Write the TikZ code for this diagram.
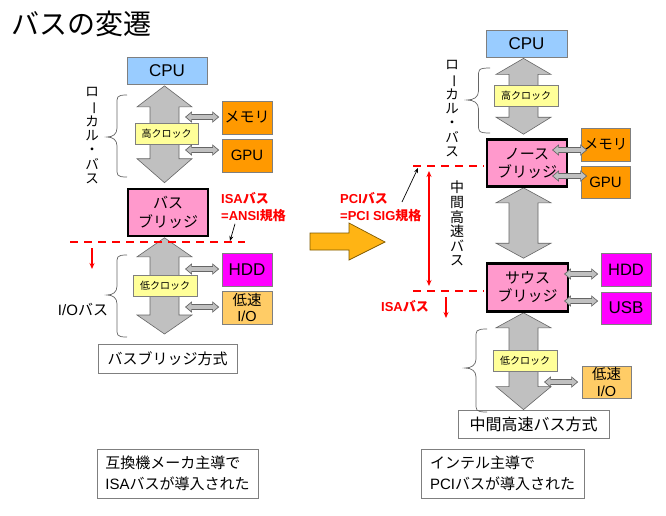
\documentclass[tikz,border=0pt]{standalone}
\usepackage{fontspec}
\setmainfont{Noto Sans CJK JP}
\newfontfamily\lat{Liberation Sans}
\usetikzlibrary{calc,arrows.meta}
\newcommand\la[1]{{\lat #1}}
\newcommand\fsz[2]{\fontsize{#1}{#2}\selectfont}
\definecolor{cpublue}{HTML}{99CCFF}
\definecolor{clkyellow}{HTML}{FFFF99}
\definecolor{devorange}{HTML}{FF9900}
\definecolor{devmagenta}{HTML}{FF00FF}
\definecolor{iolight}{HTML}{FFCC66}
\definecolor{bridgepink}{HTML}{FF99CC}
\definecolor{busgray}{HTML}{C0C0C0}
\definecolor{busedge}{HTML}{666666}
\definecolor{boxedge}{HTML}{7F7F7F}
\definecolor{bigorange}{HTML}{FFB414}
\definecolor{bigorangeedge}{HTML}{7F5A00}
\pgfdeclarelayer{background}
\pgfsetlayers{background,main}
\tikzset{
  unitbox/.style={draw=boxedge, line width=0.8pt, inner sep=0pt, align=center},
  cpubox/.style={unitbox, fill=cpublue, minimum width=81pt, minimum height=27pt, font=\fsz{17}{20}\lat},
  clkbox/.style={unitbox, fill=clkyellow, minimum width=64pt, minimum height=21pt, font=\fsz{10}{12}},
  devbox/.style={unitbox, minimum width=50pt, minimum height=33pt},
  bridgebox/.style={draw=black, line width=2.6pt, fill=bridgepink, inner sep=0pt, align=center, minimum width=80pt, minimum height=47pt},
  capbox/.style={draw=boxedge, line width=0.8pt, fill=white, inner sep=0pt, align=center, font=\fsz{15}{18}},
  notebox/.style={draw=boxedge, line width=0.8pt, fill=white, inner xsep=6pt, inner ysep=0pt, align=left, font=\fsz{15}{21}},
  bigarrow/.style={fill=busgray, draw=busedge, line width=0.6pt, line join=miter},
  smallarrow/.style={fill=busgray, draw=busedge, line width=0.7pt, line join=miter},
  redlabel/.style={text=red, font=\fsz{13}{17}\bfseries, align=left, inner sep=0pt},
  reddash/.style={draw=red, line width=2.6pt, dash pattern=on 8pt off 6pt},
  redarrow/.style={draw=red, line width=1.4pt, -{Stealth[length=6pt,width=5pt]}},
  reddouble/.style={draw=red, line width=1.4pt, {Stealth[length=6pt,width=5pt]}-{Stealth[length=6pt,width=5pt]}},
  pointer/.style={draw=black, line width=0.7pt, -{Stealth[length=5pt,width=4pt]}},
  vtext/.style={align=center, inner sep=0pt, font=\fsz{13.5}{14.3}},
  brace/.style={draw=boxedge!80!black, line width=0.7pt}
}
% vertical fat double arrow: top point, bottom point, top head length, bottom head length
\newcommand\fatarrow[4]{%
  \filldraw[bigarrow] let \p1=#1, \p2=#2 in
   (\x1,\y1) -- (\x1+27.5pt,\y1-#3pt) -- (\x1+14.5pt,\y1-#3pt) -- (\x1+14.5pt,\y2+#4pt)
   -- (\x1+27.5pt,\y2+#4pt) -- (\x1,\y2) -- (\x1-27.5pt,\y2+#4pt) -- (\x1-14.5pt,\y2+#4pt)
   -- (\x1-14.5pt,\y1-#3pt) -- (\x1-27.5pt,\y1-#3pt) -- cycle;}
% horizontal thin double arrow: left point, right point
\newcommand\thinarrow[2]{%
  \filldraw[smallarrow] let \p1=#1, \p2=#2 in
   (\x1,\y1) -- (\x1+6pt,\y1+5pt) -- (\x1+6pt,\y1+2.5pt) -- (\x2-6pt,\y1+2.5pt) -- (\x2-6pt,\y1+5pt)
   -- (\x2,\y1) -- (\x2-6pt,\y1-5pt) -- (\x2-6pt,\y1-2.5pt) -- (\x1+6pt,\y1-2.5pt) -- (\x1+6pt,\y1-5pt) -- cycle;}
% left curly brace: right x, top y, bottom y, tip y, width
\newcommand\leftbrace[5]{%
  \draw[brace] (#1,#2) .. controls (#1-0.55*#5,#2) and (#1-0.5*#5,#2+2) .. (#1-0.5*#5,#2+10)
   -- (#1-0.5*#5,#4-9) .. controls (#1-0.5*#5,#4-3) and (#1-0.7*#5,#4) .. (#1-#5,#4)
   .. controls (#1-0.7*#5,#4) and (#1-0.5*#5,#4+3) .. (#1-0.5*#5,#4+9)
   -- (#1-0.5*#5,#3-10) .. controls (#1-0.5*#5,#3-2) and (#1-0.55*#5,#3) .. (#1,#3);}
\begin{document}
\begin{tikzpicture}[x=1pt,y=-1pt]
\useasboundingbox (0,0) rectangle (666,515);
\begin{pgfonlayer}{background}
\fill[white] (0,0) rectangle (666,515);
\end{pgfonlayer}

% title
\node[anchor=west, inner sep=0pt, font=\fsz{28}{32}] (title) at (11,24) {バスの変遷};

% ===== left: bus bridge =====
\node[cpubox, minimum width=80pt] (cpuL) at (167,70.5) {CPU};
\node[bridgebox, font=\fsz{15}{19}] (brL) at (168,212.5) {バス\\ブリッジ};
\node[devbox, fill=devorange, font=\fsz{15}{18}] (memL) at (247,117.5) {メモリ};
\node[devbox, fill=devorange, font=\fsz{15}{18}\lat] (gpuL) at (247,155.5) {GPU};
\node[devbox, fill=devmagenta, font=\fsz{17}{20}\lat] (hddL) at (247,269.5) {HDD};
\node[devbox, fill=iolight, font=\fsz{14.5}{16.5}] (ioL) at (247,307.5) {低速\\\la{I/O}};
\coordinate (busLend) at (164.5,334);
\begin{pgfonlayer}{background}
\fatarrow{($(cpuL.south)+(-2.5,1.5)$)}{($(brL.north)+(-3.5,-5)$)}{21}{24}
\fatarrow{($(brL.south)+(-3.5,0.5)$)}{(busLend)}{19}{19}
\end{pgfonlayer}
\node[clkbox, minimum width=63pt] (hiL) at (166.5,133.5) {高クロック};
\node[clkbox] (loL) at (165,285.5) {低クロック};
\thinarrow{($(memL.west)+(-36,-0.5)$)}{($(memL.west)+(-3,-0.5)$)}
\thinarrow{($(gpuL.west)+(-36,-5.5)$)}{($(gpuL.west)+(-3,-5.5)$)}
\thinarrow{($(hddL.west)+(-36,-0.5)$)}{($(hddL.west)+(-3,-0.5)$)}
\thinarrow{($(ioL.west)+(-36,-0.5)$)}{($(ioL.west)+(-3,-0.5)$)}
\node[capbox, minimum width=139pt, minimum height=29pt] (capL) at (167.5,358.5) {バスブリッジ方式};
\node[notebox, minimum width=161pt, minimum height=49pt] (noteL) at (177.5,473.5) {互換機メーカ主導で\\\la{ISA}バスが導入された};

\leftbrace{127}{95}{177}{137}{20}
\leftbrace{127}{255}{337}{295}{20}
\node[vtext, anchor=north] (localL) at (92,87) {ロ\\\rotatebox[origin=c]{-90}{ー}\\カ\\ル\\・\\バ\\ス};
\node[anchor=center, inner sep=0pt, font=\fsz{15}{18}] (iobus) at (83,310) {\la{I/O}バス};

\node[redlabel, anchor=north west] (isaL) at (221,192) {\la{ISA}バス\\\la{=ANSI}規格};
\coordinate (dashLa) at (70,242);
\coordinate (dashLb) at (245,242);
\draw[reddash] (dashLa) -- (dashLb);
\coordinate (ptrL) at (230,241);
\draw[pointer] ($(isaL.south west)+(14,2)$) -- (ptrL);
\coordinate (downLa) at (92,248);
\coordinate (downLb) at (92,269);
\draw[redarrow] (downLa) -- (downLb);

% ===== middle orange arrow =====
\filldraw[fill=bigorange, draw=bigorangeedge, line width=0.7pt]
  (310,233) -- (349,233) -- (349,223) -- (385,242) -- (349,260) -- (349,250) -- (310,250) -- cycle;

% ===== right: intermediate high-speed bus =====
\node[cpubox] (cpuR) at (526.5,43.5) {CPU};
\node[bridgebox, font=\fsz{15}{18}] (nbR) at (527,163) {ノース\\ブリッジ};
\node[bridgebox, font=\fsz{15}{18}, minimum width=81pt, minimum height=48pt] (sbR) at (527.5,287.5) {サウス\\ブリッジ};
\node[devbox, fill=devorange, minimum width=49pt, font=\fsz{14.5}{18}] (memR) at (605.5,144.5) {メモリ};
\node[devbox, fill=devorange, minimum width=49pt, minimum height=32pt, font=\fsz{15}{18}\lat] (gpuR) at (605.5,182) {GPU};
\node[devbox, fill=devmagenta, font=\fsz{16.5}{20}\lat] (hddR) at (626,269.5) {HDD};
\node[devbox, fill=devmagenta, minimum height=32pt, font=\fsz{17}{20}\lat] (usbR) at (626,308) {USB};
\node[devbox, fill=iolight, minimum width=49pt, minimum height=32pt, font=\fsz{14.5}{16.5}] (ioR) at (606.5,382) {低速\\\la{I/O}};
\node[capbox, minimum width=151pt, minimum height=28pt, font=\fsz{16}{18}] (capR) at (533.5,424) {中間高速バス方式};
\begin{pgfonlayer}{background}
\fatarrow{($(cpuR.south)+(-3,1)$)}{($(nbR.north)+(-3.5,-4)$)}{16}{17}
\fatarrow{($(nbR.south)+(-3.5,0)$)}{($(sbR.north)+(-4,-4)$)}{15}{15}
\fatarrow{($(sbR.south)+(-4,0)$)}{($(capR.north)+(-10,0)$)}{15}{23}
\end{pgfonlayer}
\node[clkbox] (hiR) at (526,95.5) {高クロック};
\node[clkbox] (loR) at (525,360.5) {低クロック};
\thinarrow{($(memR.west)+(-28,5.5)$)}{($(memR.west)+(6,5.5)$)}
\thinarrow{($(gpuR.west)+(-28,-6)$)}{($(gpuR.west)+(6,-6)$)}
\thinarrow{($(hddR.west)+(-36,4.5)$)}{($(hddR.west)+(-3,4.5)$)}
\thinarrow{($(usbR.west)+(-36,-7)$)}{($(usbR.west)+(-3,-7)$)}
\thinarrow{($(ioR.west)+(-37,0)$)}{($(ioR.west)+(-4,0)$)}
\node[notebox, minimum width=163pt, minimum height=49pt] (noteR) at (502.5,473.5) {インテル主導で\\\la{PCI}バスが導入された};

\leftbrace{490}{68}{133}{100}{23}
\leftbrace{487}{329}{412}{368}{22}
\node[vtext, anchor=north] (localR) at (452,60) {ロ\\\rotatebox[origin=c]{-90}{ー}\\カ\\ル\\・\\バ\\ス};
\node[vtext, anchor=north, font=\fsz{14}{14.6}] (midbus) at (457,181) {中\\間\\高\\速\\バ\\ス};

\node[redlabel, anchor=north west] (pciR) at (340,192) {\la{PCI}バス\\\la{=PCI SIG}規格};
\coordinate (dashRa) at (413,166);
\coordinate (dashRb) at (484,166);
\draw[reddash] (dashRa) -- (dashRb);
\coordinate (dashRc) at (413,291);
\coordinate (dashRd) at (484,291);
\draw[reddash] (dashRc) -- (dashRd);
\coordinate (ptrR) at (418,168);
\draw[pointer] ($(pciR.north west)+(62,10)$) -- (ptrR);
\coordinate (midTop) at (429,171);
\coordinate (midBot) at (429,286);
\draw[reddouble] (midTop) -- (midBot);
\node[redlabel, anchor=center] (isaR) at (405,306) {\la{ISA}バス};
\coordinate (downRa) at (446,297);
\coordinate (downRb) at (446,318);
\draw[redarrow] (downRa) -- (downRb);
\end{tikzpicture}
\end{document}
